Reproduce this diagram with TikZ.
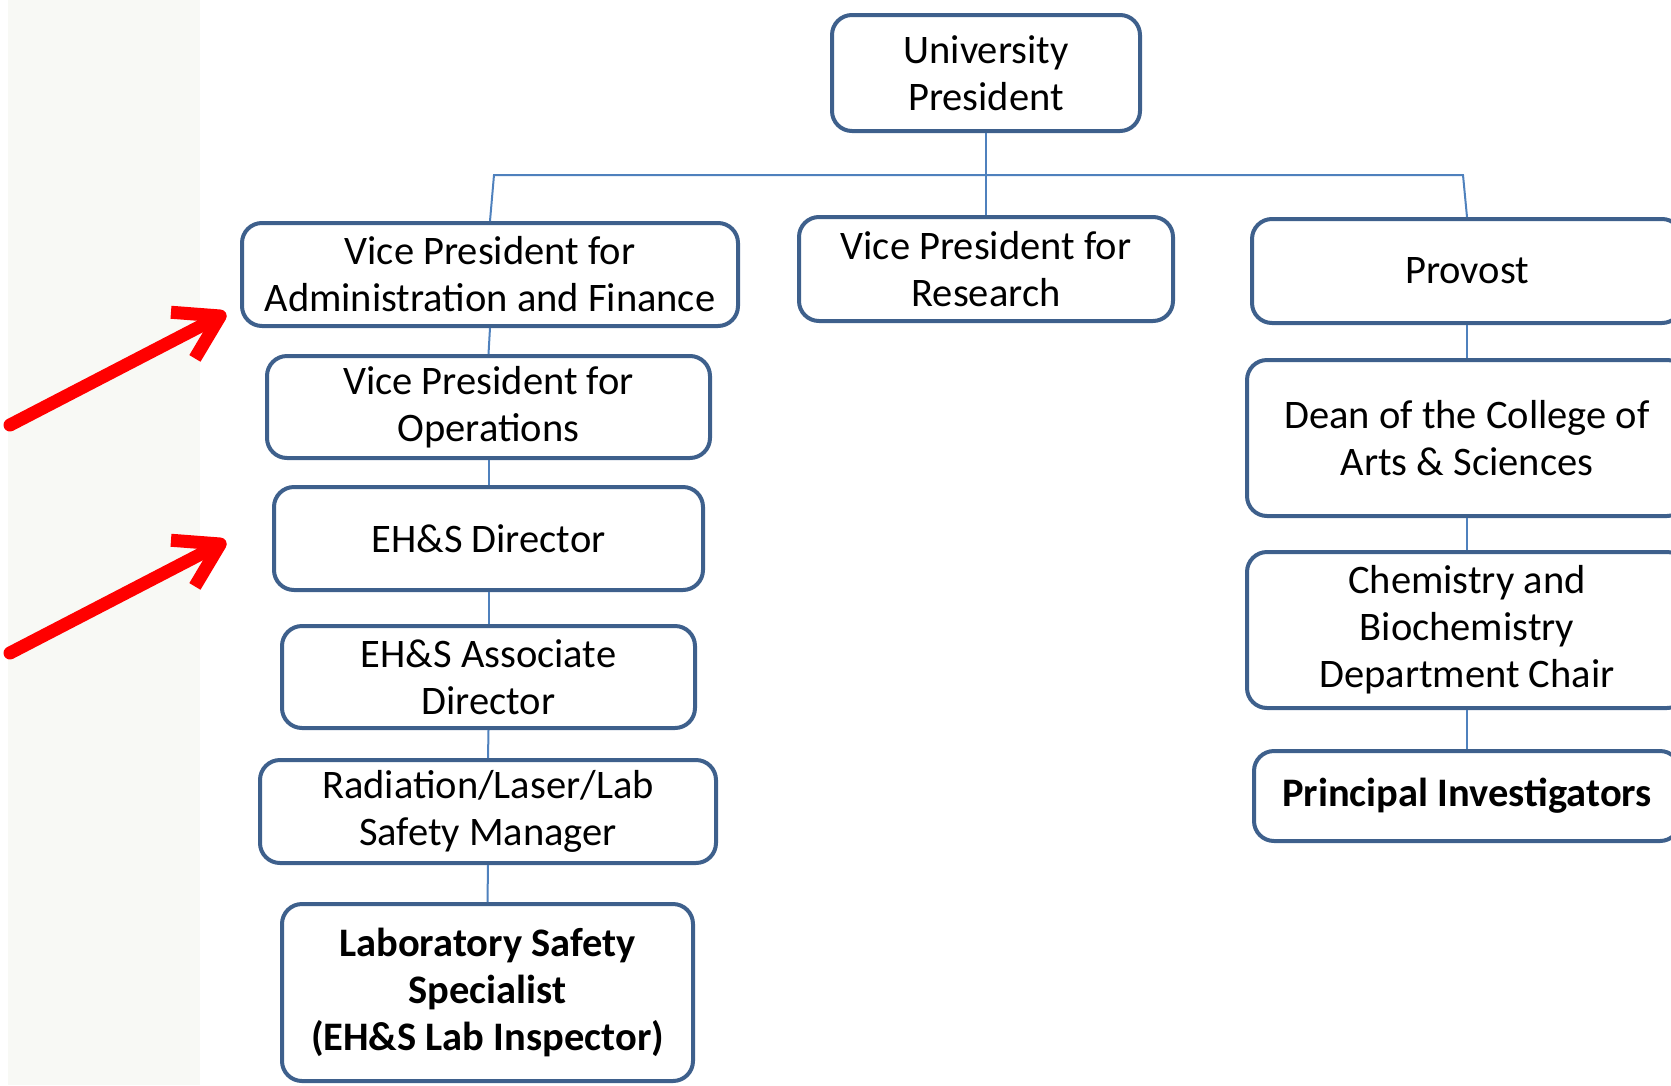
\documentclass[tikz,border=0pt]{standalone}
\usepackage{fontspec}
\setmainfont{Carlito}
\usepackage{tikz}
\usetikzlibrary{arrows.meta, positioning}
\definecolor{boxblue}{RGB}{62,96,140}
\definecolor{linkblue}{RGB}{79,129,189}
\definecolor{stripgray}{RGB}{248,249,245}

\begin{document}
\begin{tikzpicture}[x=1pt, y=-1pt,
    role/.style={draw=boxblue, line width=4pt, rounded corners=20pt, fill=white,
                 align=center, inner sep=0pt, font=\fontsize{40.5}{47}\selectfont},
    link/.style={draw=linkblue, line width=2pt},
    pointer/.style={draw=red, line width=13pt, line cap=round,
                    -{Straight Barb[length=42pt, width=52pt, line join=round]}}]

            % Khung hình và dải nền bên trái
            \clip (0,0) rectangle (1671,1085);
            \fill[stripgray] (8,0) rectangle (200,1085); % Dải xám nhạt

            % Cấp trên cùng
            \node[role, minimum width=308pt, minimum height=116pt] (pres) at (986,73) {University\\President};
            \node[role, minimum width=496pt, minimum height=103pt] (vpaf) at (490,274.5) {Vice President for\\Administration and Finance};
            \node[role, minimum width=374pt, minimum height=104pt] (vpr) at (986,269) {Vice President for\\Research};
            \node[role, minimum width=430pt, minimum height=104pt] (prov) at (1467,271) {Provost};

            % Cột bên trái
            \node[role, minimum width=443pt, minimum height=102pt] (vpops) at (488.5,407) {Vice President for\\Operations};
            \node[role, minimum width=429pt, minimum height=103pt] (ehsdir) at (488.5,538.5) {EH\&S Director};
            \node[role, minimum width=413pt, minimum height=102pt] (ehsassoc) at (488.5,677) {EH\&S Associate\\Director};
            \node[role, minimum width=456pt, minimum height=103pt] (radmgr) at (488,811.5) {Radiation/Laser/Lab\\Safety Manager};
            \node[role, minimum width=411pt, minimum height=177pt, font=\fontsize{40.5}{47}\selectfont\bfseries] (labspec) at (487.5,992.5) {Laboratory Safety\\Specialist\\(EH\&S Lab Inspector)};

            % Cột bên phải
            \node[role, minimum width=440pt, minimum height=156pt] (dean) at (1467,438) {Dean of the College of\\Arts \& Sciences};
            \node[role, minimum width=440pt, minimum height=156pt] (chem) at (1467,630) {Chemistry and\\Biochemistry\\Department Chair};
            \node[role, minimum width=426pt, minimum height=90pt, font=\fontsize{40.5}{47}\selectfont\bfseries] (pis) at (1467,796) {Principal Investigators};

            % Đường nối
            \coordinate (busL) at (494,175); % Góc trái
            \coordinate (busR) at (1463,175); % Góc phải
            \draw[link] (vpaf.north) -- (busL) -- (busR) -- (prov.north);
            \draw[link] (pres.south) -- (vpr.north);
            \draw[link] (vpaf.south) -- (vpops.north);
            \draw[link] (vpops.south) -- (ehsdir.north);
            \draw[link] (ehsdir.south) -- (ehsassoc.north);
            \draw[link] (ehsassoc.south) -- (radmgr.north);
            \draw[link] (radmgr.south) -- (labspec.north);
            \draw[link] (prov.south) -- (dean.north);
            \draw[link] (dean.south) -- (chem.north);
            \draw[link] (chem.south) -- (pis.north);

            % Mũi tên đỏ
            \coordinate (tailA) at (10,425);
            \coordinate (tipA) at (226,313);
            \coordinate (tailB) at (10,653);
            \coordinate (tipB) at (226,541);
            \draw[pointer] (tailA) -- (tipA);
            \draw[pointer] (tailB) -- (tipB);

\end{tikzpicture}
\end{document}
